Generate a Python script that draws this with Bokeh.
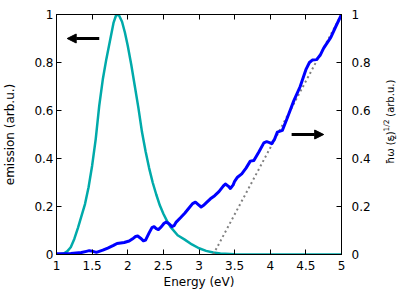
from bokeh.plotting import figure
from bokeh.layouts import row
from bokeh.core.properties import value
from bokeh.models import (Range1d, LinearAxis, FixedTicker, NumeralTickFormatter,
                          CustomJSTickFormatter, Arrow, NormalHead)
from bokeh.embed import file_html
from bokeh.resources import INLINE

FONT = "DejaVu Sans"

# emission spectrum (left axis)
e_em = [1.00, 1.05, 1.10, 1.15, 1.20, 1.25, 1.30, 1.35, 1.40, 1.45, 1.50, 1.55, 1.60,
        1.65, 1.70, 1.75, 1.80, 1.84, 1.88, 1.92, 1.96, 2.00, 2.05, 2.10, 2.15, 2.20,
        2.25, 2.30, 2.35, 2.40, 2.45, 2.50, 2.55, 2.60, 2.70, 2.80, 2.90, 3.00, 3.10,
        3.20, 3.30, 3.50, 4.00, 5.00]
emission = [0.0, 0.001, 0.004, 0.013, 0.03, 0.065, 0.11, 0.16, 0.21, 0.28, 0.37, 0.48,
            0.62, 0.73, 0.815, 0.89, 0.965, 1.0, 0.995, 0.97, 0.925, 0.87, 0.79, 0.70,
            0.61, 0.51, 0.43, 0.36, 0.30, 0.25, 0.205, 0.17, 0.14, 0.115, 0.08, 0.062,
            0.042, 0.026, 0.015, 0.008, 0.004, 0.001, 0.0, 0.0]

# hbar*omega*sqrt(eps2) (right axis)
e_abs = [1.00, 1.20, 1.35, 1.42, 1.46, 1.50, 1.56, 1.65, 1.72, 1.80, 1.85, 1.95, 2.02,
         2.08, 2.11, 2.14, 2.18, 2.22, 2.25, 2.30, 2.34, 2.37, 2.40, 2.43, 2.47, 2.51,
         2.54, 2.58, 2.62, 2.65, 2.68, 2.74, 2.80, 2.86, 2.91, 2.95, 2.99, 3.03, 3.07,
         3.10, 3.16, 3.22, 3.28, 3.34, 3.37, 3.41, 3.44, 3.48, 3.50, 3.54, 3.60, 3.66,
         3.72, 3.77, 3.84, 3.91, 3.95, 3.99, 4.02, 4.06, 4.10, 4.17, 4.24, 4.33, 4.42,
         4.50, 4.55, 4.59, 4.65, 4.70, 4.75, 4.85, 4.92, 5.00]
absorp = [0.003, 0.004, 0.008, 0.013, 0.016, 0.014, 0.009, 0.018, 0.027, 0.038, 0.046,
          0.050, 0.056, 0.068, 0.075, 0.077, 0.068, 0.057, 0.060, 0.090, 0.112, 0.116,
          0.108, 0.104, 0.115, 0.130, 0.135, 0.128, 0.116, 0.120, 0.135, 0.153, 0.172,
          0.194, 0.212, 0.218, 0.208, 0.198, 0.206, 0.215, 0.232, 0.245, 0.262, 0.285,
          0.294, 0.285, 0.275, 0.290, 0.305, 0.322, 0.336, 0.360, 0.389, 0.392, 0.427,
          0.465, 0.470, 0.466, 0.462, 0.480, 0.510, 0.517, 0.570, 0.640, 0.700, 0.770,
          0.800, 0.810, 0.812, 0.830, 0.860, 0.905, 0.950, 1.000]

# linear (Tauc) extrapolation
e_fit = [3.2, 5.0]
fit = [0.0, 1.0]

x_ticks = [1, 1.5, 2, 2.5, 3, 3.5, 4, 4.5, 5]
y_ticks = [0, 0.2, 0.4, 0.6, 0.8, 1]

arrow_left = (1.6, 1.15, 0.9)
arrow_right = (4.3, 4.75, 0.5)

p = figure(frame_width=285, frame_height=240, x_range=Range1d(1, 5), y_range=Range1d(0, 1),
           output_backend="svg", toolbar_location=None,
           min_border_left=56, min_border_right=37, min_border_top=14, min_border_bottom=37,
           background_fill_color="white", border_fill_color="white",
           outline_line_color="black", outline_line_width=1)
p.grid.visible = False


def style(ax, ticks, standoff):
    ax.ticker = FixedTicker(ticks=ticks)
    ax.formatter = NumeralTickFormatter(format="0.[0]")
    ax.major_tick_in = 5
    ax.major_tick_out = 0
    ax.minor_tick_line_color = None
    ax.axis_line_color = "black"
    ax.major_tick_line_color = "black"
    ax.major_label_text_font = FONT
    ax.major_label_text_font_size = "12px"
    ax.major_label_text_color = "black"
    ax.major_label_standoff = standoff
    ax.axis_label_text_font = FONT
    ax.axis_label_text_font_size = "12px"
    ax.axis_label_text_font_style = "normal"
    ax.axis_label_text_color = "black"


xa = p.xaxis[0]
style(xa, x_ticks, 6)
xa.axis_label = "Energy (eV)"
xa.axis_label_standoff = 2

ya = p.yaxis[0]
style(ya, y_ticks, 3)
ya.axis_label = "emission (arb.u.)"
ya.axis_label_standoff = 14

ra = LinearAxis()
style(ra, y_ticks, 10)
p.add_layout(ra, "right")

ta = LinearAxis()
style(ta, x_ticks, 3)
ta.formatter = CustomJSTickFormatter(code="return ''")
p.add_layout(ta, "above")

p.line(e_em, emission, line_color="#00aaaa", line_width=2.5, line_join="round")
p.line(e_fit, fit, line_color="#808080", line_width=2, line_dash="2 3")
p.line(e_abs, absorp, line_color="#0000ff", line_width=3, line_join="round")

for xs, xe, yy in (arrow_left, arrow_right):
    p.add_layout(Arrow(end=NormalHead(size=9, fill_color="black", line_color="black", line_width=1),
                       x_start=xs, y_start=yy, x_end=xe, y_end=yy,
                       line_color="black", line_width=3))

# narrow side panel holding the right-axis title (reads bottom to top)
W2, H2 = 37, 291
q = figure(width=W2, height=H2, x_range=Range1d(0, W2), y_range=Range1d(0, H2),
           output_backend="svg", toolbar_location=None, x_axis_type=None, y_axis_type=None,
           min_border=0, outline_line_color=None,
           background_fill_color="white", border_fill_color="white")
xc = 12
ys = 110
main_parts = ["ħω (ε", ")", "(arb.u.)"]
main_x = [xc, xc, xc]
main_y = [ys, ys + 34.5, ys + 57]
script_parts = ["2", "1/2"]
script_x = [xc + 2.5, xc - 4]
script_y = [ys + 29.5, ys + 39]
q.text(x=main_x, y=main_y, text=main_parts, angle=90, angle_units="deg",
       text_align="left", text_baseline="middle", text_font=value(FONT),
       text_font_size=value("10px"), text_color="black")
q.text(x=script_x, y=script_y, text=script_parts, angle=90, angle_units="deg",
       text_align="left", text_baseline="middle", text_font=value(FONT),
       text_font_size=value("7.5px"), text_color="black")

layout = row(p, q, spacing=0)
open("out.html", "w").write(file_html(layout, INLINE))
